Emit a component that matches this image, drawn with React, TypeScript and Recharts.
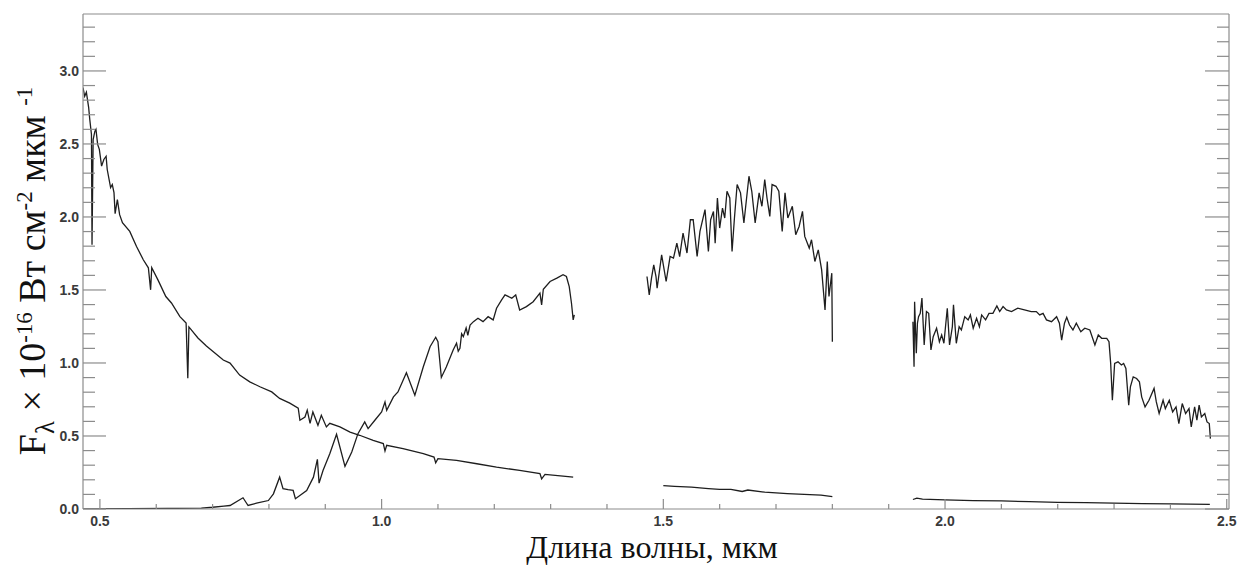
import React from 'react';
import { LineChart, Line, XAxis, YAxis } from 'recharts';

// [wavelength µm, flux ×1e-16]
const hotStar: [number, number][] = [
  [0.47, 2.886], [0.473, 2.826], [0.476, 2.854], [0.48, 2.751], [0.482, 2.668], [0.485, 2.565],
  [0.486, 1.81], [0.488, 2.53], [0.491, 2.586], [0.493, 2.6], [0.496, 2.497], [0.499, 2.463],
  [0.503, 2.348], [0.507, 2.394], [0.511, 2.416], [0.513, 2.325], [0.519, 2.201], [0.522, 2.222],
  [0.525, 2.167], [0.527, 2.023], [0.531, 2.119], [0.535, 2.016], [0.54, 1.961], [0.553, 1.901],
  [0.565, 1.798], [0.577, 1.707], [0.586, 1.652], [0.59, 1.501], [0.592, 1.652], [0.603, 1.569],
  [0.617, 1.455], [0.627, 1.411], [0.642, 1.317], [0.653, 1.274], [0.656, 0.896], [0.658, 1.247],
  [0.674, 1.171], [0.689, 1.116], [0.704, 1.068], [0.719, 1.02], [0.731, 0.999], [0.748, 0.917],
  [0.766, 0.871], [0.784, 0.837], [0.805, 0.802], [0.819, 0.757], [0.837, 0.725], [0.852, 0.69],
  [0.855, 0.608], [0.864, 0.63], [0.868, 0.677], [0.873, 0.587], [0.878, 0.665], [0.887, 0.573],
  [0.893, 0.642], [0.902, 0.562], [0.908, 0.587], [0.926, 0.562], [0.944, 0.527], [0.961, 0.505],
  [0.985, 0.47], [1.003, 0.448], [1.006, 0.397], [1.009, 0.436], [1.038, 0.413], [1.074, 0.379],
  [1.093, 0.356], [1.096, 0.317], [1.1, 0.345], [1.133, 0.333], [1.169, 0.31], [1.204, 0.287],
  [1.245, 0.264], [1.281, 0.242], [1.284, 0.207], [1.29, 0.237], [1.322, 0.225], [1.34, 0.218],
];

const coolOptJ: [number, number][] = [
  [0.47, 0.0], [0.55, 0.002], [0.62, 0.004], [0.68, 0.006], [0.7, 0.012], [0.72, 0.02],
  [0.731, 0.024], [0.754, 0.077], [0.763, 0.024], [0.778, 0.04], [0.799, 0.058], [0.808, 0.104],
  [0.819, 0.218], [0.825, 0.139], [0.834, 0.132], [0.843, 0.127], [0.847, 0.07], [0.867, 0.127],
  [0.879, 0.218], [0.886, 0.34], [0.889, 0.177], [0.896, 0.264], [0.908, 0.379], [0.92, 0.512],
  [0.935, 0.292], [0.947, 0.39], [0.958, 0.516], [0.97, 0.596], [0.976, 0.551], [0.988, 0.608],
  [1.0, 0.665], [1.006, 0.733], [1.009, 0.676], [1.021, 0.768], [1.029, 0.802], [1.044, 0.933],
  [1.059, 0.78], [1.074, 0.974], [1.086, 1.111], [1.096, 1.176], [1.1, 1.146], [1.106, 0.901],
  [1.115, 0.974], [1.127, 1.089], [1.133, 1.135], [1.136, 1.08], [1.139, 1.1], [1.142, 1.2],
  [1.145, 1.18], [1.15, 1.24], [1.153, 1.19], [1.157, 1.26], [1.163, 1.283], [1.171, 1.306],
  [1.18, 1.283], [1.189, 1.317], [1.198, 1.295], [1.204, 1.375], [1.213, 1.432], [1.219, 1.466],
  [1.231, 1.444], [1.238, 1.466], [1.245, 1.363], [1.257, 1.386], [1.269, 1.42], [1.281, 1.478],
  [1.284, 1.398], [1.287, 1.505], [1.299, 1.558], [1.311, 1.581], [1.322, 1.604], [1.328, 1.592],
  [1.333, 1.523], [1.337, 1.409], [1.34, 1.295], [1.342, 1.329],
];

const coolH: [number, number][] = [
  [1.471, 1.592], [1.475, 1.466], [1.479, 1.581], [1.483, 1.672], [1.487, 1.592], [1.489, 1.512],
  [1.497, 1.741], [1.505, 1.558], [1.512, 1.729], [1.518, 1.718], [1.524, 1.821], [1.529, 1.729],
  [1.535, 1.89], [1.542, 1.753], [1.548, 1.981], [1.553, 1.981], [1.56, 1.729], [1.565, 1.901],
  [1.574, 2.05], [1.58, 1.764], [1.584, 1.981], [1.589, 2.038], [1.592, 1.821], [1.596, 2.13],
  [1.6, 1.924], [1.605, 2.06], [1.609, 1.993], [1.613, 2.176], [1.618, 2.13], [1.622, 1.764],
  [1.626, 1.981], [1.631, 2.222], [1.637, 2.165], [1.643, 1.959], [1.652, 2.279], [1.657, 2.176],
  [1.663, 1.959], [1.67, 2.165], [1.675, 2.073], [1.68, 2.256], [1.684, 2.13], [1.689, 2.004],
  [1.693, 2.222], [1.7, 2.21], [1.705, 2.176], [1.711, 1.901], [1.716, 2.165], [1.721, 1.993],
  [1.729, 2.073], [1.735, 1.878], [1.741, 1.935], [1.747, 2.038], [1.751, 1.867], [1.759, 1.787],
  [1.763, 1.844], [1.769, 1.695], [1.775, 1.775], [1.781, 1.638], [1.787, 1.363], [1.791, 1.695],
  [1.794, 1.455], [1.799, 1.615], [1.8, 1.146],
];

const hotH: [number, number][] = [
  [1.5, 0.16], [1.52, 0.155], [1.55, 0.15], [1.58, 0.14], [1.6, 0.135], [1.62, 0.135],
  [1.64, 0.12], [1.65, 0.13], [1.68, 0.115], [1.7, 0.11], [1.72, 0.105], [1.75, 0.1],
  [1.78, 0.095], [1.8, 0.085],
];

const coolK: [number, number][] = [
  [1.943, 1.283], [1.945, 0.974], [1.946, 1.42], [1.949, 1.066], [1.951, 1.272], [1.953, 1.317],
  [1.956, 1.34], [1.959, 1.444], [1.963, 1.123], [1.967, 1.352], [1.971, 1.34], [1.975, 1.089],
  [1.979, 1.18], [1.985, 1.238], [1.99, 1.146], [1.994, 1.192], [1.998, 1.135], [2.004, 1.375],
  [2.008, 1.123], [2.013, 1.249], [2.015, 1.398], [2.02, 1.135], [2.025, 1.249], [2.029, 1.226],
  [2.035, 1.317], [2.041, 1.295], [2.045, 1.329], [2.05, 1.238], [2.056, 1.306], [2.061, 1.249],
  [2.065, 1.329], [2.072, 1.295], [2.078, 1.34], [2.085, 1.34], [2.092, 1.391], [2.097, 1.352],
  [2.103, 1.386], [2.109, 1.363], [2.118, 1.352], [2.129, 1.375], [2.141, 1.363], [2.153, 1.352],
  [2.162, 1.352], [2.168, 1.329], [2.174, 1.34], [2.18, 1.295], [2.189, 1.283], [2.198, 1.317],
  [2.203, 1.272], [2.207, 1.157], [2.212, 1.272], [2.216, 1.313], [2.221, 1.26], [2.227, 1.226],
  [2.233, 1.272], [2.241, 1.214], [2.248, 1.238], [2.257, 1.226], [2.266, 1.123], [2.272, 1.192],
  [2.278, 1.169], [2.287, 1.169], [2.291, 1.146], [2.294, 0.997], [2.297, 0.745], [2.301, 0.997],
  [2.307, 1.008], [2.313, 0.986], [2.317, 0.997], [2.321, 0.963], [2.326, 0.711], [2.329, 0.837],
  [2.334, 0.905], [2.34, 0.894], [2.345, 0.871], [2.349, 0.768], [2.355, 0.699], [2.362, 0.745],
  [2.371, 0.826], [2.375, 0.733], [2.38, 0.654], [2.387, 0.745], [2.391, 0.688], [2.398, 0.745],
  [2.404, 0.665], [2.41, 0.699], [2.415, 0.585], [2.421, 0.722], [2.427, 0.654], [2.433, 0.688],
  [2.437, 0.562], [2.443, 0.699], [2.447, 0.608], [2.451, 0.711], [2.455, 0.631], [2.461, 0.654],
  [2.465, 0.596], [2.469, 0.585], [2.471, 0.482],
];

const hotK: [number, number][] = [
  [1.943, 0.065], [1.95, 0.075], [1.96, 0.068], [2.0, 0.062], [2.05, 0.058], [2.1, 0.055],
  [2.15, 0.05], [2.2, 0.046], [2.25, 0.043], [2.3, 0.04], [2.35, 0.037], [2.4, 0.035], [2.47, 0.032],
];

const xTicks = [
  0.5, 0.6, 0.7, 0.8, 0.9, 1.0, 1.1, 1.2, 1.3, 1.4, 1.5, 1.6, 1.7, 1.8, 1.9, 2.0, 2.1, 2.2, 2.3, 2.4, 2.5,
];
const yTicks = [
  0, 0.1, 0.2, 0.3, 0.4, 0.5, 0.6, 0.7, 0.8, 0.9, 1.0, 1.1, 1.2, 1.3, 1.4, 1.5, 1.6, 1.7,
  1.8, 1.9, 2.0, 2.1, 2.2, 2.3, 2.4, 2.5, 2.6, 2.7, 2.8, 2.9, 3.0, 3.1, 3.2, 3.3,
];

const segments = [hotStar, coolOptJ, coolH, hotH, coolK, hotK];

const AXIS = '#8c8c8c';
const LABEL = '#3a3a3a';
const INK = '#1e1e1e';

const isMajor = (v: number) => Math.abs(v * 2 - Math.round(v * 2)) < 1e-6;

const labelStyle = {
  fontFamily: '"Liberation Sans", Arial, sans-serif',
  fontSize: 14,
  fontWeight: 700,
  fill: LABEL,
};

const BottomTick = (props: any) => {
  const { x, y, payload } = props;
  const major = isMajor(payload.value);
  return (
    <g>
      <line x1={x} y1={y} x2={x} y2={y - (major ? 10 : 5)} stroke={AXIS} strokeWidth={1.2} />
      {major && (
        <text x={x} y={y + 17} textAnchor="middle" {...labelStyle}>
          {payload.value.toFixed(1)}
        </text>
      )}
    </g>
  );
};

const TopTick = (props: any) => {
  const { x, y, payload } = props;
  const major = isMajor(payload.value);
  return <line x1={x} y1={y} x2={x} y2={y + (major ? 10 : 5)} stroke={AXIS} strokeWidth={1.2} />;
};

const LeftTick = (props: any) => {
  const { x, y, payload } = props;
  const major = isMajor(payload.value);
  return (
    <g>
      <line x1={x} y1={y} x2={x + (major ? 23 : 12)} y2={y} stroke={AXIS} strokeWidth={1.2} />
      {major && (
        <text x={x - 4} y={y + 5} textAnchor="end" {...labelStyle}>
          {payload.value.toFixed(1)}
        </text>
      )}
    </g>
  );
};

const RightTick = (props: any) => {
  const { x, y, payload } = props;
  const major = isMajor(payload.value);
  return <line x1={x} y1={y} x2={x - (major ? 24 : 12)} y2={y} stroke={AXIS} strokeWidth={1.2} />;
};

const serif = '"Liberation Serif", "Times New Roman", serif';
const supStyle = { fontSize: '0.6em' };

export default function App() {
  return (
    <div style={{ position: 'absolute', left: 0, top: 0, width: 1241, height: 565, background: '#fff' }}>
      <LineChart width={1241} height={565} margin={{ top: 13, right: 11, bottom: 0, left: 0 }}>
        <XAxis
          xAxisId="main"
          type="number"
          dataKey="x"
          domain={[0.47, 2.504]}
          ticks={xTicks}
          interval={0}
          allowDataOverflow
          height={56}
          tickSize={0}
          tickMargin={0}
          tickLine={false}
          axisLine={{ stroke: AXIS, strokeWidth: 1.2 }}
          tick={<BottomTick />}
        />
        <XAxis
          xAxisId="top"
          orientation="top"
          type="number"
          domain={[0.47, 2.504]}
          ticks={xTicks}
          interval={0}
          allowDataOverflow
          height={1}
          tickSize={0}
          tickMargin={0}
          tickLine={false}
          axisLine={{ stroke: AXIS, strokeWidth: 1.2 }}
          tick={<TopTick />}
        />
        <YAxis
          yAxisId="main"
          type="number"
          domain={[0, 3.39]}
          ticks={yTicks}
          interval={0}
          allowDataOverflow
          width={83}
          tickSize={0}
          tickMargin={0}
          tickLine={false}
          axisLine={{ stroke: AXIS, strokeWidth: 1.2 }}
          tick={<LeftTick />}
        />
        <YAxis
          yAxisId="right"
          orientation="right"
          type="number"
          domain={[0, 3.39]}
          ticks={yTicks}
          interval={0}
          allowDataOverflow
          width={1}
          tickSize={0}
          tickMargin={0}
          tickLine={false}
          axisLine={{ stroke: AXIS, strokeWidth: 1.2 }}
          tick={<RightTick />}
        />
        {segments.map((seg, i) => (
          <Line
            key={i}
            xAxisId="main"
            yAxisId="main"
            data={seg.map(([x, y]) => ({ x, y }))}
            dataKey="y"
            type="linear"
            stroke={INK}
            strokeWidth={1.3}
            dot={false}
            activeDot={false}
            isAnimationActive={false}
          />
        ))}
      </LineChart>
      <div
        style={{
          position: 'absolute',
          left: 652,
          top: 547,
          transform: 'translate(-50%, -50%)',
          fontFamily: serif,
          fontSize: 32,
          whiteSpace: 'nowrap',
          lineHeight: '28px',
          color: '#111',
        }}
      >
        Длина волны, мкм
      </div>
      <div
        style={{
          position: 'absolute',
          left: 36,
          top: 271,
          transform: 'translate(-50%, -50%) rotate(-90deg)',
          fontFamily: serif,
          fontSize: 38,
          whiteSpace: 'nowrap',
          lineHeight: 1,
          color: '#111',
        }}
      >
        F<sub style={{ fontSize: '0.7em' }}>λ</sub> × 10<sup style={supStyle}>-16</sup> Вт см
        <sup style={supStyle}>-2</sup> мкм <sup style={supStyle}>-1</sup>
      </div>
    </div>
  );
}
